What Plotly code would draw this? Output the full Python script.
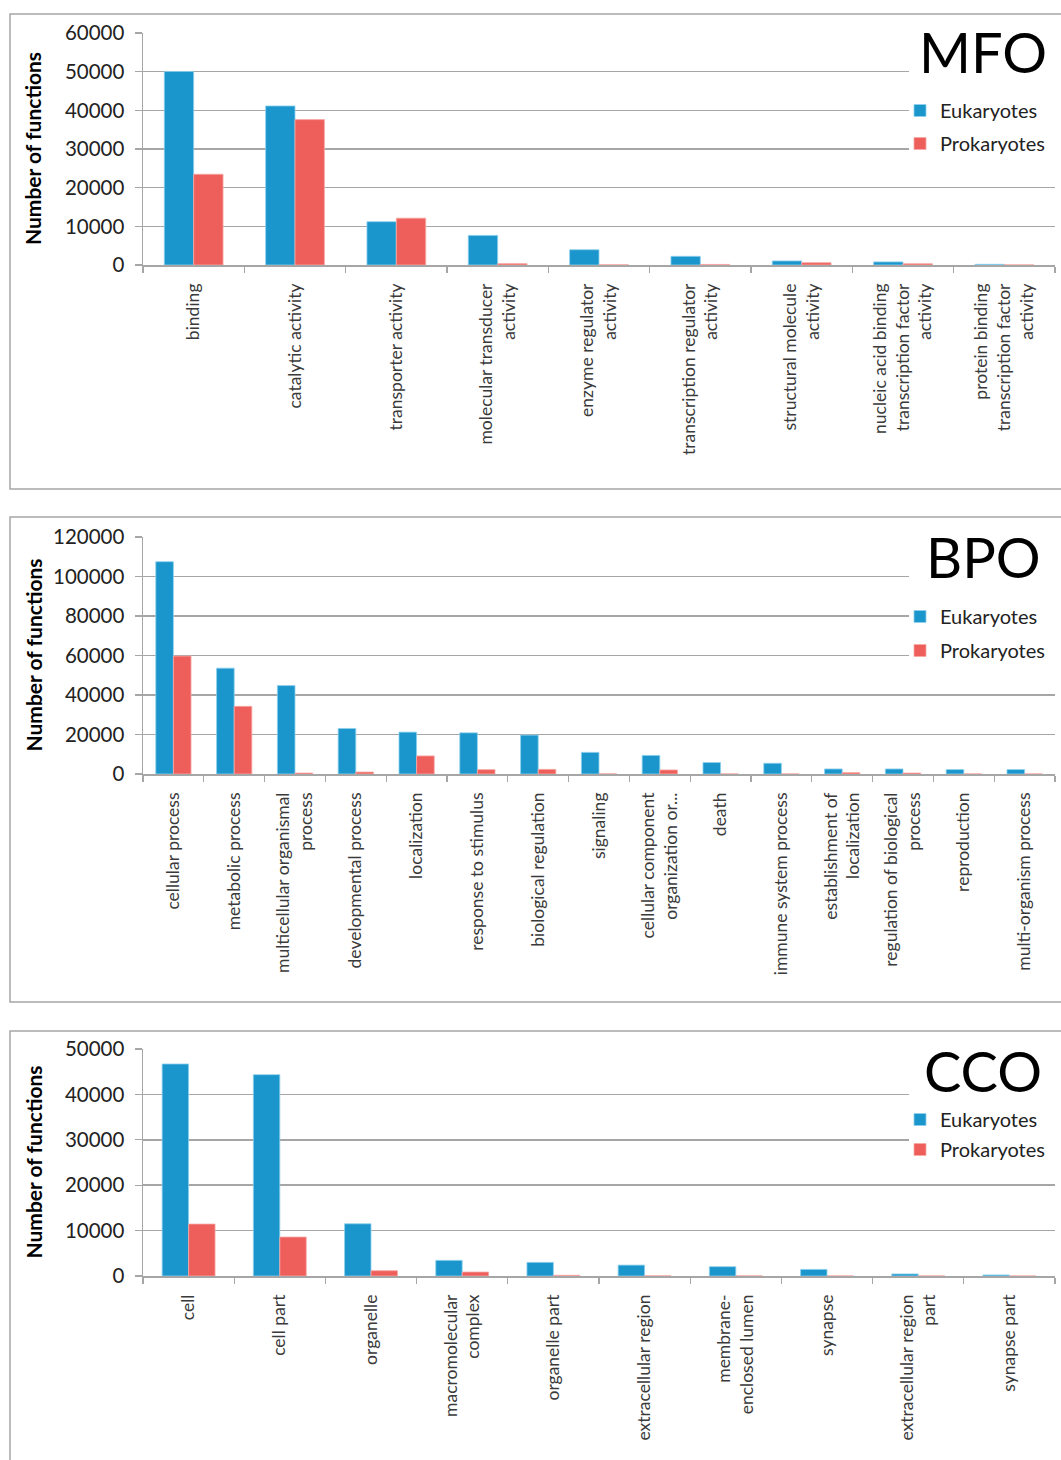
import plotly.graph_objects as go

W, H = 1061, 1460

# ---------------- data ----------------
mfo_categories = ["binding", "catalytic activity", "transporter activity",
                  "molecular transducer<br>activity", "enzyme regulator<br>activity",
                  "transcription regulator<br>activity", "structural molecule<br>activity",
                  "nucleic acid binding<br>transcription factor<br>activity",
                  "protein binding<br>transcription factor<br>activity"]
mfo_eukaryotes = [50050, 41130, 11200, 7650, 3950, 2250, 1050, 800, 180]
mfo_prokaryotes = [23470, 37600, 12120, 350, 60, 150, 600, 330, 30]

bpo_categories = ["cellular process", "metabolic process", "multicellular organismal<br>process",
                  "developmental process", "localization", "response to stimulus",
                  "biological regulation", "signaling", "cellular component<br>organization or...",
                  "death", "immune system process", "establishment of<br>localization",
                  "regulation of biological<br>process", "reproduction", "multi-organism process"]
bpo_eukaryotes = [107500, 53600, 44750, 23050, 21200, 20850, 19700, 10950, 9400,
                  5800, 5450, 2550, 2550, 2250, 2250]
bpo_prokaryotes = [59700, 34250, 500, 1000, 9150, 2200, 2350, 80, 2050,
                   60, 60, 700, 500, 60, 60]

cco_categories = ["cell", "cell part", "organelle", "macromolecular<br>complex", "organelle part",
                  "extracellular region", "membrane-<br>enclosed lumen", "synapse",
                  "extracellular region<br>part", "synapse part"]
cco_eukaryotes = [46700, 44350, 11500, 3450, 3000, 2400, 2050, 1450, 450, 230]
cco_prokaryotes = [11440, 8580, 1170, 880, 150, 40, 30, 20, 15, 10]

panel_titles = ["MFO", "BPO", "CCO"]
series_names = ["Eukaryotes", "Prokaryotes"]
y_ranges = [(0, 60000, 10000), (0, 120000, 20000), (0, 50000, 10000)]

# ---------------- style ----------------
BLUE = "#1B96CC"
RED = "#EE5F5B"
GRID = "#A6A6A6"
FONT = "Lato"
TXT = "#3a3a3a"


def fx(px):
    return px / W


def fy(py):
    return 1 - py / H


panels = [
    dict(pt=33, pb=265, bt=14, bb=489, wt=22, wb=160, ty=52, ly=91, gap=4),
    dict(pt=537, pb=774, bt=517, bb=1002, wt=525, wb=668, ty=556, ly=597, gap=5),
    dict(pt=1049, pb=1276, bt=1031, bb=1470, wt=1038, wb=1165, ty=1070, ly=1100, gap=1),
]

datasets = [
    (mfo_categories, mfo_eukaryotes, mfo_prokaryotes),
    (bpo_categories, bpo_eukaryotes, bpo_prokaryotes),
    (cco_categories, cco_eukaryotes, cco_prokaryotes),
]

fig = go.Figure()
shapes = []
annotations = []
layout = dict(
    width=W, height=H, autosize=False,
    margin=dict(l=0, r=0, t=0, b=0, pad=0, autoexpand=False),
    paper_bgcolor="white", plot_bgcolor="white",
    font=dict(family=FONT, color=TXT),
    barmode="group", bargap=0.42, bargroupgap=0.0,
)

for i, ((cats, euk, pro), p, title, yr) in enumerate(zip(datasets, panels, panel_titles, y_ranges)):
    n = "" if i == 0 else str(i + 1)
    xa, ya = "x" + n, "y" + n
    lg = "legend" + n
    for name, vals, col, lcol in [(series_names[0], euk, BLUE, "#8fd0ee"),
                                   (series_names[1], pro, RED, "#f6a8a5")]:
        fig.add_trace(go.Bar(
            x=cats, y=vals, name=name, xaxis=xa, yaxis=ya, legend=lg,
            legendgroup=name + n,
            marker=dict(color=col, line=dict(color=lcol, width=0.8)),
        ))
    layout["xaxis" + n] = dict(
        domain=[fx(143), fx(1055)], anchor=ya, automargin=False,
        showline=True, linecolor=GRID, linewidth=1.5,
        ticks="outside", ticklen=6, tickcolor=GRID, tickwidth=1.2,
        tickson="boundaries", tickangle=-90,
        tickfont=dict(family=FONT, size=17.5, color=TXT),
        ticklabelstandoff=10,
        showgrid=False, fixedrange=True,
    )
    layout["yaxis" + n] = dict(
        domain=[fy(p["pb"]), fy(p["pt"])], anchor=xa, automargin=False,
        range=[yr[0], yr[1]], dtick=yr[2], tick0=0, tickformat="d",
        showline=True, linecolor=GRID, linewidth=1.5,
        ticks="outside", ticklen=7, tickcolor=GRID, tickwidth=1.2,
        showgrid=True, gridcolor=GRID, gridwidth=1.5,
        zeroline=False, fixedrange=True,
        tickfont=dict(family=FONT, size=20.5, color="#222"),
        ticklabelstandoff=6,
    )
    layout[lg] = dict(
        x=fx(900), y=fy(p["ly"]), xanchor="left", yanchor="top",
        bgcolor="rgba(0,0,0,0)", borderwidth=0,
        font=dict(family=FONT, size=20, color="#222"),
        traceorder="grouped", tracegroupgap=p["gap"],
    )
    shapes.append(dict(type="rect", xref="paper", yref="paper",
                       x0=fx(10), x1=fx(1064), y0=fy(p["bb"]), y1=fy(p["bt"]),
                       line=dict(color="#A6A6A6", width=1.5), fillcolor="rgba(0,0,0,0)",
                       layer="above"))
    shapes.append(dict(type="rect", xref="paper", yref="paper",
                       x0=fx(909), x1=fx(1061), y0=fy(p["wb"]), y1=fy(p["wt"]),
                       line=dict(width=0), fillcolor="white", layer="above"))
    annotations.append(dict(text=title, xref="paper", yref="paper",
                            x=fx(983), y=fy(p["ty"]), xanchor="center", yanchor="middle",
                            showarrow=False, font=dict(family=FONT, size=56, color="black")))
    annotations.append(dict(text="<b>Number of functions</b>", xref="paper", yref="paper",
                            x=fx(33), y=fy((p["pt"] + p["pb"]) / 2), textangle=-90,
                            xanchor="center", yanchor="middle", showarrow=False,
                            font=dict(family=FONT, size=21, color="black")))

layout["shapes"] = shapes
layout["annotations"] = annotations
fig.update_layout(**layout)
fig.write_html(
    "out.html",
    config={"displayModeBar": False, "staticPlot": True},
    post_script=(
        "document.documentElement.style.margin='0';"
        "document.body.style.margin='0';document.body.style.padding='0';"
        "document.body.style.overflow='hidden';"
        "var gd=document.getElementById('{plot_id}');"
        "gd.style.position='fixed';gd.style.left='0px';gd.style.top='0px';"
    ),
)
